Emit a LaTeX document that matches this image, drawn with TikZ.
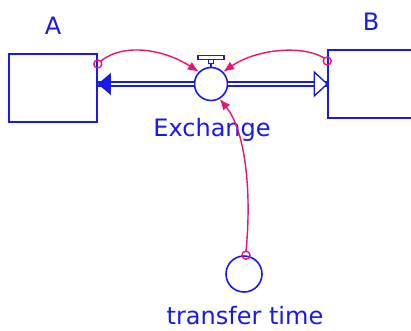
\documentclass[tikz,border=0pt]{standalone}
\usepackage{fontspec}
\setmainfont{DejaVu Sans}
\usetikzlibrary{arrows.meta, calc, positioning}
\definecolor{stockblue}{RGB}{25,25,235}
\definecolor{linkpink}{RGB}{232,20,112}
\tikzset{
	stock/.style={draw=stockblue, line width=1.6pt, minimum width=88pt, minimum height=68pt, inner sep=0pt},
	aux/.style={circle, draw=stockblue, line width=1.6pt, minimum size=34pt, inner sep=0pt},
	lbl/.style={text=stockblue, font=\fontsize{24}{28}\selectfont, anchor=base, inner sep=1pt},
	pipe/.style={stockblue, line width=1.5pt, double=white, double distance=2.5pt},
	link/.style={linkpink, line width=1.4pt, -{Latex[length=11pt,width=9pt]}},
	tail/.style={linkpink, line width=1.4pt}
}

\begin{document}
\begin{tikzpicture}[x=1pt, y=-1pt]
	\useasboundingbox (0,0) rectangle (411,330);

	% 存量 A 和 B
	\node[stock] (A) at (53,88) {};
	\node[stock] (B) at (372,84) {};
	\node[lbl] (Alabel) at (53,34) {A};
	\node[lbl] (Blabel) at (371,30) {B};

	% 阀门
	\node[aux, minimum size=33pt] (valve) at (211,84) {};
	\draw[stockblue, line width=1.5pt] (valve.north) -- ++(0,-3) coordinate (stem);
	\draw[stockblue, line width=1.5pt] ($(stem)+(-2.5,0)$) rectangle ($(stem)+(2.5,-4)$);
	\draw[stockblue, line width=1.5pt] ($(stem)+(-13,-4)$) rectangle ($(stem)+(13,-8)$);
	\node[lbl] (vlabel) at (212,136) {Exchange};

	% 流管
	\draw[pipe] (valve.west) -- (A.east |- valve.west);
	\draw[pipe] (valve.east) -- (B.west |- valve.east);
	\fill[stockblue] (A.east |- valve.west) -- ++(13,-11) -- ++(0,22) -- cycle;
	\draw[stockblue, fill=white, line width=1.4pt] (B.west |- valve.east) -- ++(-13,-12) -- ++(0,24) -- cycle;

	% 辅助变量
	\node[aux, minimum size=36pt] (ttime) at (244,274) {};
	\node[lbl] (tlabel) at (245,324) {transfer time};

	% 信息连线
	\coordinate (a0) at (A.east |- 0,64);
	\coordinate (b0) at (B.west |- 0,61);
	\coordinate (t0) at ($(ttime.north)+(2,0)$);
	\draw[tail] (a0) circle (4);
	\draw[tail] (b0) circle (4);
	\draw[tail] (t0) circle (4);
	\draw[link] ($(a0)+(3,-3)$) .. controls (125,42) and (165,50) .. (valve.135);
	\draw[link] ($(b0)+(-3,-3)$) .. controls (300,44) and (255,50) .. (valve.45);
	\draw[link] ($(t0)+(0,-4)$) .. controls (252,190) and (245,130) .. (valve.-60);
\end{tikzpicture}
\end{document}
